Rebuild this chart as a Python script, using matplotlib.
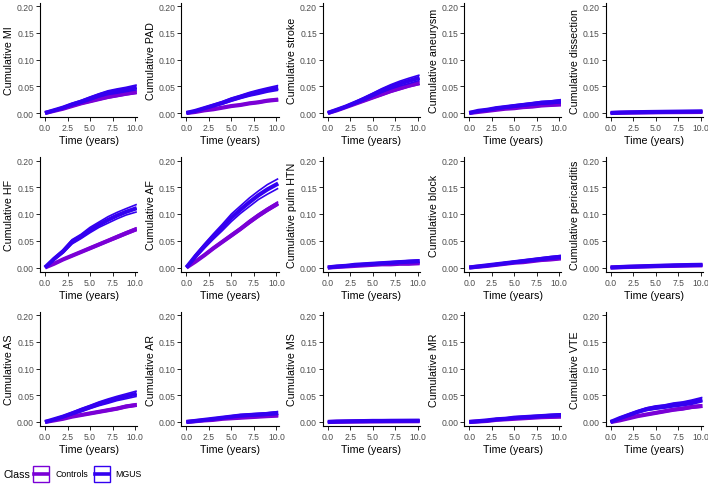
"""Cumulative incidence of cardiovascular outcomes: MGUS vs controls."""

import numpy as np
import matplotlib.pyplot as plt
from matplotlib.patches import Rectangle
from matplotlib.lines import Line2D

plt.rcParams['font.family'] = ['Liberation Sans', 'DejaVu Sans']

# ------------------------------
# Data
# ------------------------------

times = [0, 1, 2, 3, 4, 5, 6, 7, 8, 9, 10.2]

outcomes = ["MI", "PAD", "stroke", "aneurysm", "dissection",
            "HF", "AF", "pulm HTN", "block", "pericarditis",
            "AS", "AR", "MS", "MR", "VTE"]

mgus_est = [
    [0, 0.005, 0.010, 0.016, 0.021, 0.027, 0.033, 0.038, 0.041, 0.044, 0.048],
    [0, 0.004, 0.009, 0.014, 0.019, 0.025, 0.030, 0.035, 0.039, 0.043, 0.047],
    [0, 0.006, 0.012, 0.019, 0.026, 0.034, 0.042, 0.049, 0.055, 0.060, 0.066],
    [0, 0.004, 0.006, 0.009, 0.011, 0.013, 0.015, 0.017, 0.019, 0.020, 0.022],
    [0, 0.0008, 0.0012, 0.0015, 0.0018, 0.002, 0.0022, 0.0024, 0.0026, 0.0028, 0.003],
    [0, 0.016, 0.030, 0.048, 0.058, 0.070, 0.080, 0.089, 0.097, 0.104, 0.111],
    [0, 0.021, 0.040, 0.058, 0.075, 0.093, 0.108, 0.122, 0.135, 0.146, 0.157],
    [0, 0.002, 0.003, 0.005, 0.006, 0.007, 0.008, 0.009, 0.010, 0.011, 0.012],
    [0, 0.002, 0.004, 0.006, 0.008, 0.010, 0.012, 0.014, 0.016, 0.018, 0.020],
    [0, 0.0008, 0.0015, 0.002, 0.0025, 0.003, 0.0035, 0.004, 0.0043, 0.0047, 0.005],
    [0, 0.005, 0.010, 0.016, 0.022, 0.028, 0.034, 0.039, 0.044, 0.048, 0.053],
    [0, 0.002, 0.004, 0.006, 0.008, 0.010, 0.012, 0.013, 0.014, 0.015, 0.017],
    [0, 0.0008, 0.0012, 0.0015, 0.0017, 0.002, 0.002, 0.0022, 0.0023, 0.0024, 0.0025],
    [0, 0.0015, 0.003, 0.005, 0.006, 0.008, 0.009, 0.010, 0.011, 0.012, 0.013],
    [0, 0.007, 0.013, 0.019, 0.024, 0.027, 0.029, 0.032, 0.034, 0.037, 0.042],
]
mgus_hw = [
    [0, 0.001, 0.0015, 0.002, 0.0025, 0.003, 0.003, 0.0035, 0.004, 0.004, 0.0045],
    [0, 0.001, 0.0015, 0.002, 0.0025, 0.003, 0.003, 0.0035, 0.004, 0.004, 0.0045],
    [0, 0.001, 0.0015, 0.002, 0.003, 0.003, 0.0035, 0.004, 0.0045, 0.005, 0.005],
    [0, 0.001, 0.001, 0.0015, 0.0015, 0.002, 0.002, 0.002, 0.0025, 0.0025, 0.003],
    [0, 0.0005, 0.0006, 0.0007, 0.0008, 0.0009, 0.001, 0.001, 0.0011, 0.0011, 0.0012],
    [0, 0.002, 0.003, 0.004, 0.004, 0.005, 0.005, 0.006, 0.006, 0.006, 0.007],
    [0, 0.003, 0.004, 0.005, 0.006, 0.007, 0.007, 0.008, 0.008, 0.009, 0.009],
    [0, 0.0008, 0.001, 0.0012, 0.0013, 0.0015, 0.0016, 0.0017, 0.0018, 0.0019, 0.002],
    [0, 0.0008, 0.001, 0.0012, 0.0015, 0.0017, 0.0019, 0.002, 0.0022, 0.0023, 0.0025],
    [0, 0.0005, 0.0007, 0.0008, 0.0009, 0.001, 0.0011, 0.0012, 0.0013, 0.0014, 0.0015],
    [0, 0.001, 0.0015, 0.002, 0.003, 0.003, 0.0035, 0.004, 0.004, 0.0045, 0.005],
    [0, 0.0008, 0.001, 0.0012, 0.0014, 0.0016, 0.0018, 0.002, 0.0021, 0.0023, 0.0025],
    [0, 0.0005, 0.0006, 0.0007, 0.0008, 0.0009, 0.001, 0.001, 0.0011, 0.0011, 0.0012],
    [0, 0.0008, 0.001, 0.0012, 0.0013, 0.0015, 0.0016, 0.0017, 0.0018, 0.002, 0.0022],
    [0, 0.0015, 0.002, 0.002, 0.0025, 0.003, 0.003, 0.0035, 0.0035, 0.004, 0.004],
]
ctrl_est = [
    [0, 0.004, 0.008, 0.013, 0.018, 0.022, 0.026, 0.030, 0.033, 0.036, 0.039],
    [0, 0.002, 0.005, 0.007, 0.010, 0.013, 0.015, 0.018, 0.020, 0.023, 0.025],
    [0, 0.005, 0.011, 0.017, 0.023, 0.029, 0.035, 0.041, 0.046, 0.051, 0.056],
    [0, 0.002, 0.004, 0.006, 0.008, 0.009, 0.011, 0.012, 0.014, 0.015, 0.016],
    [0, 0.0004, 0.0007, 0.0009, 0.0011, 0.0013, 0.0015, 0.0016, 0.0017, 0.0018, 0.002],
    [0, 0.007, 0.015, 0.022, 0.029, 0.036, 0.043, 0.050, 0.057, 0.064, 0.072],
    [0, 0.011, 0.023, 0.036, 0.048, 0.060, 0.072, 0.085, 0.097, 0.108, 0.120],
    [0, 0.001, 0.002, 0.003, 0.004, 0.005, 0.006, 0.006, 0.007, 0.007, 0.008],
    [0, 0.0015, 0.003, 0.005, 0.007, 0.009, 0.010, 0.012, 0.014, 0.015, 0.017],
    [0, 0.0006, 0.001, 0.0015, 0.002, 0.0024, 0.0028, 0.003, 0.0034, 0.0037, 0.004],
    [0, 0.003, 0.006, 0.010, 0.013, 0.016, 0.019, 0.022, 0.025, 0.029, 0.032],
    [0, 0.0015, 0.003, 0.004, 0.006, 0.007, 0.008, 0.009, 0.010, 0.011, 0.012],
    [0, 0.0004, 0.0006, 0.0008, 0.0009, 0.001, 0.0011, 0.0012, 0.0013, 0.0014, 0.0015],
    [0, 0.001, 0.002, 0.004, 0.005, 0.006, 0.007, 0.008, 0.009, 0.0095, 0.010],
    [0, 0.003, 0.007, 0.011, 0.014, 0.017, 0.020, 0.023, 0.025, 0.028, 0.030],
]
ctrl_hw = [
    [0, 0.0005, 0.001, 0.001, 0.0015, 0.0015, 0.0015, 0.002, 0.002, 0.002, 0.002],
    [0, 0.0005, 0.0007, 0.0008, 0.001, 0.001, 0.0012, 0.0013, 0.0014, 0.0015, 0.0015],
    [0, 0.0005, 0.001, 0.001, 0.0015, 0.0015, 0.002, 0.002, 0.002, 0.002, 0.0025],
    [0, 0.0005, 0.0005, 0.0007, 0.0008, 0.0009, 0.001, 0.001, 0.0012, 0.0013, 0.0015],
    [0, 0.0003, 0.0003, 0.0004, 0.0004, 0.0005, 0.0005, 0.0005, 0.0006, 0.0006, 0.0006],
    [0, 0.001, 0.001, 0.0015, 0.0015, 0.002, 0.002, 0.002, 0.0025, 0.0025, 0.0025],
    [0, 0.001, 0.0015, 0.002, 0.002, 0.0025, 0.0025, 0.003, 0.003, 0.003, 0.003],
    [0, 0.0004, 0.0005, 0.0006, 0.0007, 0.0008, 0.0008, 0.0009, 0.0009, 0.001, 0.001],
    [0, 0.0005, 0.0006, 0.0007, 0.0008, 0.0009, 0.001, 0.001, 0.0011, 0.0012, 0.0012],
    [0, 0.0003, 0.0004, 0.0005, 0.0005, 0.0006, 0.0006, 0.0007, 0.0007, 0.0008, 0.0008],
    [0, 0.0005, 0.0008, 0.001, 0.0012, 0.0015, 0.0015, 0.0017, 0.0018, 0.002, 0.002],
    [0, 0.0005, 0.0006, 0.0007, 0.0008, 0.0009, 0.001, 0.001, 0.0011, 0.0012, 0.0012],
    [0, 0.0003, 0.0003, 0.0004, 0.0004, 0.0005, 0.0005, 0.0005, 0.0006, 0.0006, 0.0006],
    [0, 0.0005, 0.0006, 0.0007, 0.0008, 0.0009, 0.001, 0.001, 0.0011, 0.0012, 0.0012],
    [0, 0.0008, 0.001, 0.001, 0.0012, 0.0015, 0.0015, 0.0017, 0.0018, 0.002, 0.002],
]

x_ticks = [0, 2.5, 5, 7.5, 10]
x_ticklabels = ["0.0", "2.5", "5.0", "7.5", "10.0"]
y_ticks = [0, 0.05, 0.10, 0.15, 0.20]
y_ticklabels = ["0.00", "0.05", "0.10", "0.15", "0.20"]

col_ctrl = '#7A00D6'
col_mgus = '#3300F0'
grey = '#4D4D4D'

# ------------------------------
# Layout (pixel geometry of the reference)
# ------------------------------

W, H = 708, 485
fig = plt.figure(figsize=(W / 100, H / 100), dpi=100)

xlim = (-0.55, 10.25)
ylim = (-0.008, 0.206)


def panel_rect(r, c):
    x0 = 45 + 141.4 * c          # pixel of x = 0
    y0 = 114 + 154.5 * r         # pixel of y = 0.00 (from top)
    left = x0 + xlim[0] * 9.0
    right = x0 + xlim[1] * 9.0
    bottom = y0 - ylim[0] * 535
    top = y0 - ylim[1] * 535
    return [left / W, 1 - bottom / H, (right - left) / W, (bottom - top) / H]


def draw_group(ax, est, hw, color):
    t = np.array(times)
    est = np.array(est)
    hw = np.array(hw)
    ax.plot(t, est - hw, color=color, lw=1.2, solid_capstyle='butt')
    ax.plot(t, est + hw, color=color, lw=1.2, solid_capstyle='butt')
    ax.plot(t, est, color=color, lw=3.0, solid_capstyle='butt')


for i, name in enumerate(outcomes):
    r, c = divmod(i, 5)
    ax = fig.add_axes(panel_rect(r, c))

    draw_group(ax, ctrl_est[i], ctrl_hw[i], col_ctrl)
    draw_group(ax, mgus_est[i], mgus_hw[i], col_mgus)

    ax.set_xlim(*xlim)
    ax.set_ylim(*ylim)
    ax.set_xticks(x_ticks)
    ax.set_xticklabels(x_ticklabels)
    ax.set_yticks(y_ticks)
    ax.set_yticklabels(y_ticklabels)
    ax.tick_params(labelsize=6.2, colors='black', labelcolor=grey,
                   length=2.8, width=0.6, pad=1.5)
    for side in ['top', 'right']:
        ax.spines[side].set_visible(False)
    for side in ['left', 'bottom']:
        ax.spines[side].set_linewidth(0.8)
    ax.set_xlabel("Time (years)", fontsize=7.7, labelpad=2)
    ax.set_ylabel(f"Cumulative {name}", fontsize=7.7, labelpad=2)

# ------------------------------
# Legend at the bottom
# ------------------------------

leg_y = 475
fig.text(3 / W, 1 - leg_y / H, "Class", fontsize=7.7, va='center', ha='left')

for kx, tx, label, color in [(33, 55, "Controls", col_ctrl),
                             (94, 115, "MGUS", col_mgus)]:
    box = Rectangle((kx / W, 1 - (leg_y + 8) / H), 16 / W, 16 / H,
                    transform=fig.transFigure, facecolor='white',
                    edgecolor=color, lw=1.0)
    fig.add_artist(box)
    fig.add_artist(Line2D([(kx + 1) / W, (kx + 15) / W],
                          [1 - leg_y / H, 1 - leg_y / H],
                          transform=fig.transFigure, color=color, lw=2.6))
    fig.text(tx / W, 1 - leg_y / H, label, fontsize=6.3, va='center',
             ha='left')

plt.savefig("out.png", dpi=100)
